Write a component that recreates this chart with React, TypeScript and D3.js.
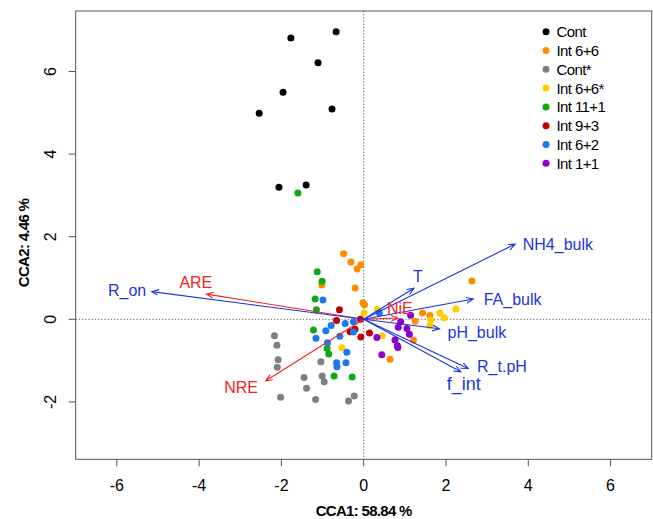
import * as d3 from "d3";

// site scores, one array per group (CCA1, CCA2)
const cont: [number, number][] = [
  [-1.77, 6.81], [-0.67, 6.96], [-1.11, 6.21], [-1.96, 5.5],
  [-2.54, 4.99], [-0.77, 5.09], [-2.06, 3.2], [-1.4, 3.25],
];
const int66: [number, number][] = [
  [-0.49, 1.59], [-0.31, 1.39], [-0.07, 1.32], [-0.16, 1.22], [-1.02, 0.83],
  [-0.21, 0.76], [-0.02, 0.4], [0.02, 0.35], [2.63, 0.93], [1.43, 0.15],
  [1.61, 0.09], [1.25, -0.05], [1.21, -0.5], [0.64, -0.97],
];
const contStar: [number, number][] = [
  [-2.17, -0.4], [-2.11, -0.63], [-2.08, -0.98], [-2.1, -1.16], [-1.04, -1.03],
  [-1.01, -1.37], [-0.96, -1.51], [-1.45, -1.41], [-1.39, -1.67], [-2.02, -1.89],
  [-1.17, -1.94], [-0.37, -1.98], [-0.23, -1.86],
];
const int66Star: [number, number][] = [
  [0.01, 0.15], [0.33, 0.24], [1.85, 0.15], [1.96, 0.04], [2.24, 0.25],
  [1.63, -0.02], [1.61, -0.15], [0.45, -0.4], [-0.53, -0.69],
];
const int111: [number, number][] = [
  [-1.6, 3.06], [-1.13, 1.15], [-1.01, 0.92], [-1.18, 0.49], [-1.15, 0.23],
  [-1.22, -0.26], [-0.89, -0.71], [-0.85, -0.84], [-0.72, -1.37], [-0.28, -1.4],
];
const int93: [number, number][] = [
  [-0.59, 0.23], [-0.66, -0.03], [-0.08, 0.0], [-0.33, -0.3],
  [-0.21, -0.24], [0.14, -0.33], [-0.07, -0.43],
];
const int62: [number, number][] = [
  [-0.99, 0.47], [0.38, 0.15], [-0.45, -0.1], [-0.25, -0.06], [-0.79, -0.15],
  [-0.92, -0.28], [-1.16, -0.46], [-0.25, -0.31], [-0.58, -0.41], [-0.88, -0.57],
  [-0.41, -0.8], [-0.66, -1.05], [-0.65, -1.15], [-0.43, -1.05],
];
const int11: [number, number][] = [
  [0.9, -0.06], [0.84, -0.19], [1.14, 0.1], [1.05, -0.22], [1.11, -0.36],
  [0.76, -0.5], [0.82, -0.64], [0.83, -0.68], [0.44, -0.86], [0.32, -0.44],
];

const groupNames = ["Cont", "Int 6+6", "Cont*", "Int 6+6*", "Int 11+1", "Int 9+3", "Int 6+2", "Int 1+1"];
const groupColors = ["#000000", "#ff8c00", "#7f7f7f", "#ffcc00", "#12a812", "#c00000", "#1a78f0", "#8a00cc"];
const groupData = [cont, int66, contStar, int66Star, int111, int93, int62, int11];

// environmental vectors (blue)
const envNames = ["R_on", "T", "NH4_bulk", "FA_bulk", "pH_bulk", "R_t.pH", "f_int"];
const envX = [-5.15, 1.22, 3.68, 2.66, 1.84, 2.54, 2.36];
const envY = [0.67, 0.75, 1.82, 0.49, -0.23, -1.19, -1.27];
const envLabelX = [-5.75, 1.32, 4.72, 3.62, 2.75, 3.36, 2.43];
const envLabelY = [0.69, 1.03, 1.82, 0.49, -0.31, -1.15, -1.56];

// response vectors (red)
const respNames = ["ARE", "NRE", "NiE"];
const respX = [-3.82, -2.38, 0.83];
const respY = [0.61, -1.49, 0.03];
const respLabelX = [-4.08, -2.98, 0.88];
const respLabelY = [0.88, -1.64, 0.25];

const xTicks = [-6, -4, -2, 0, 2, 4, 6];
const yTicks = [-2, 0, 2, 4, 6];

const W = 653;
const H = 519;
const box = { left: 75.7, right: 651.7, top: 11, bottom: 459.3 };
const font = "'Liberation Sans', Arial, Helvetica, sans-serif";
const blue = "#1c34e0";
const red = "#f52222";

export default function App() {
  const x = d3.scaleLinear().domain([-7, 7]).range([box.left, box.right]);
  const y = d3.scaleLinear().domain([-3.39, 7.465]).range([box.bottom, box.top]);

  const arrow = (
    key: string,
    x2: number,
    y2: number,
    color: string,
    marker: string
  ) => (
    <line
      key={key}
      x1={x(0)}
      y1={y(0)}
      x2={x(x2)}
      y2={y(y2)}
      stroke={color}
      strokeWidth={1.1}
      markerEnd={`url(#${marker})`}
    />
  );

  return (
    <svg
      width={W}
      height={H}
      style={{ position: "absolute", left: 0, top: 0, background: "#fff" }}
      fontFamily={font}
    >
      <defs>
        {[["headBlue", blue], ["headRed", red]].map(([id, c]) => (
          <marker
            key={id}
            id={id}
            markerUnits="userSpaceOnUse"
            markerWidth={10}
            markerHeight={8}
            refX={7}
            refY={3}
            orient="auto"
          >
            <path d="M0,0 L7,3 L0,6" fill="none" stroke={c} strokeWidth={1.1} />
          </marker>
        ))}
      </defs>

      {/* zero lines */}
      <line x1={x(0)} x2={x(0)} y1={box.top} y2={box.bottom} stroke="#555" strokeDasharray="1.2,2" />
      <line x1={box.left} x2={box.right} y1={y(0)} y2={y(0)} stroke="#555" strokeDasharray="1.2,2" />

      {/* points */}
      {groupData.map((pts, gi) =>
        pts.map((p, i) => (
          <circle key={`${gi}-${i}`} cx={x(p[0])} cy={y(p[1])} r={3.5} fill={groupColors[gi]} />
        ))
      )}

      {/* arrows */}
      {respNames.map((n, i) => arrow(`r${n}`, respX[i], respY[i], red, "headRed"))}
      {envNames.map((n, i) => arrow(`e${n}`, envX[i], envY[i], blue, "headBlue"))}

      {respNames.map((n, i) => (
        <text
          key={`rl${n}`}
          x={x(respLabelX[i])}
          y={y(respLabelY[i])}
          fill={red}
          fontSize={16}
          textAnchor="middle"
          dominantBaseline="central"
        >
          {n}
        </text>
      ))}
      {envNames.map((n, i) => (
        <text
          key={`el${n}`}
          x={x(envLabelX[i])}
          y={y(envLabelY[i])}
          fill={blue}
          fontSize={n === "f_int" ? 18 : 16}
          textAnchor="middle"
          dominantBaseline="central"
        >
          {n}
        </text>
      ))}

      {/* frame */}
      <rect
        x={box.left}
        y={box.top}
        width={box.right - box.left}
        height={box.bottom - box.top}
        fill="none"
        stroke="#555"
        strokeWidth={1}
      />

      {/* x axis */}
      {xTicks.map((t) => (
        <g key={`xt${t}`}>
          <line x1={x(t)} x2={x(t)} y1={box.bottom} y2={box.bottom + 7} stroke="#555" />
          <text x={x(t)} y={box.bottom + 26} fontSize={16} textAnchor="middle" dominantBaseline="central">
            {t}
          </text>
        </g>
      ))}
      {/* y axis */}
      {yTicks.map((t) => (
        <g key={`yt${t}`}>
          <line x1={box.left} x2={box.left - 7} y1={y(t)} y2={y(t)} stroke="#555" />
          <text
            transform={`translate(${box.left - 25},${y(t)}) rotate(-90)`}
            fontSize={16}
            textAnchor="middle"
            dominantBaseline="central"
          >
            {t}
          </text>
        </g>
      ))}

      <text
        x={x(0)}
        y={510}
        fontSize={15}
        fontWeight="bold"
        textAnchor="middle"
        dominantBaseline="central"
        letterSpacing={-0.7}
      >
        CCA1: 58.84 %
      </text>
      <text
        transform={`translate(23,243) rotate(-90)`}
        fontSize={15}
        fontWeight="bold"
        textAnchor="middle"
        dominantBaseline="central"
        letterSpacing={-0.7}
      >
        CCA2: 4.46 %
      </text>

      {/* legend */}
      {groupNames.map((g, i) => (
        <g key={`lg${g}`} transform={`translate(546,${31.7 + i * 18.8})`}>
          <circle r={3.5} fill={groupColors[i]} />
          <text x={10.5} fontSize={15} dominantBaseline="central" letterSpacing={-0.6}>
            {g}
          </text>
        </g>
      ))}
    </svg>
  );
}
